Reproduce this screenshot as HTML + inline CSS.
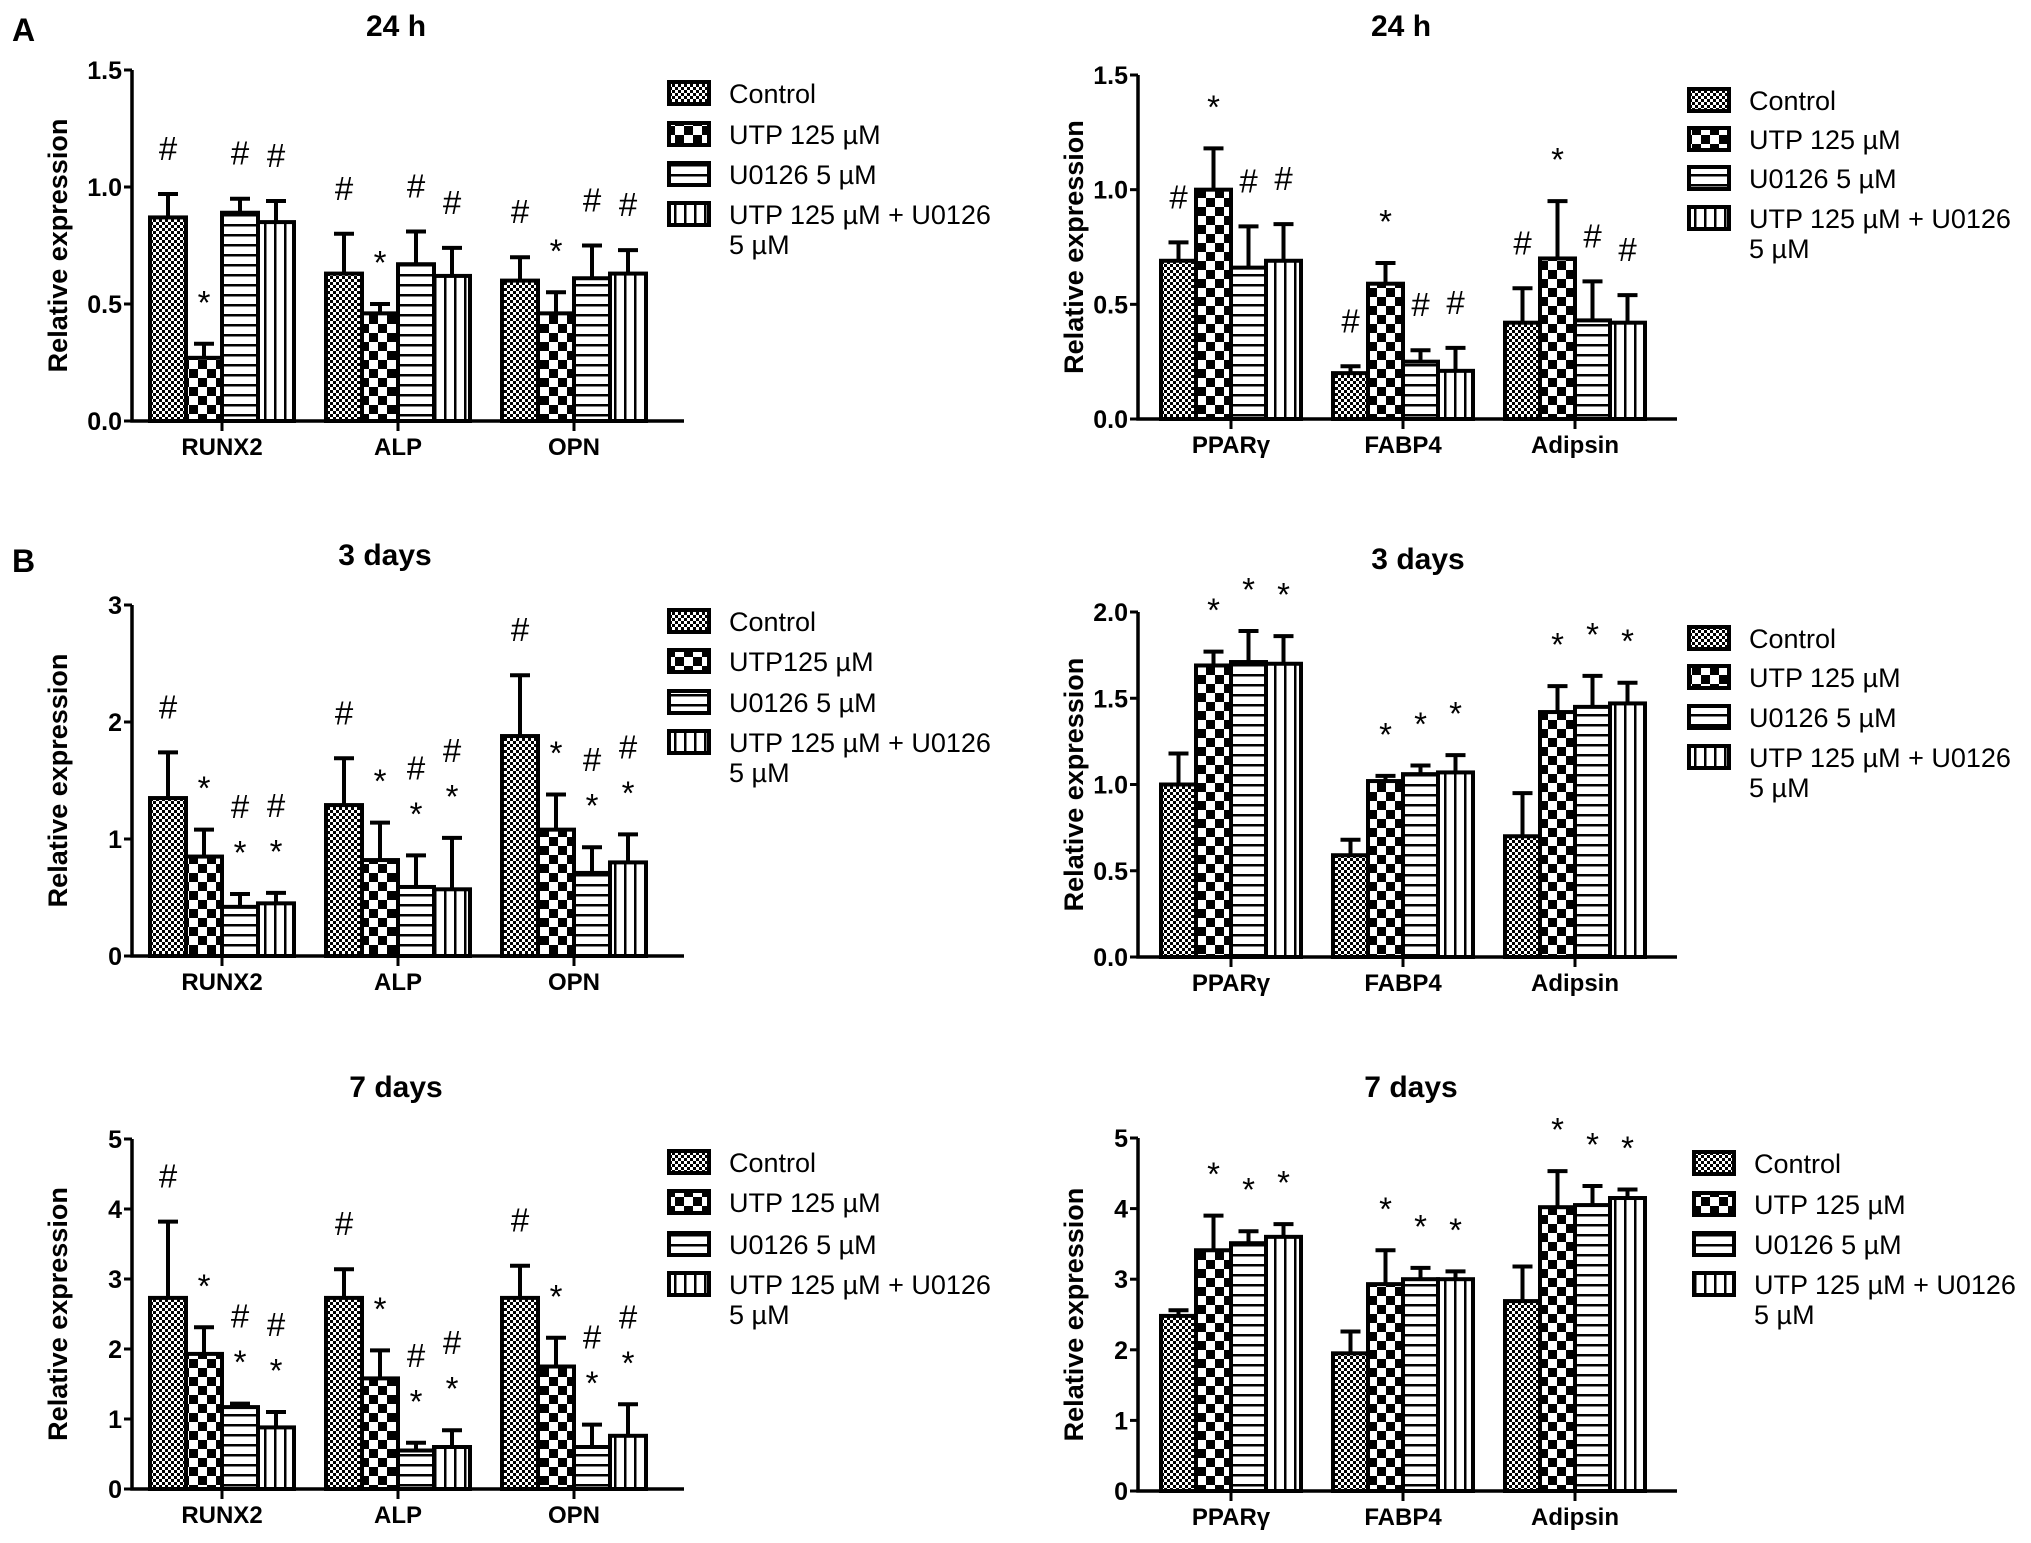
<!DOCTYPE html>
<html><head><meta charset="utf-8"><style>
html,body{margin:0;padding:0;background:#fff;}
svg{display:block;font-family:"Liberation Sans",Arial,sans-serif;}
.tick{font-weight:bold;font-size:25px;}
.cat{font-weight:bold;font-size:24px;}
.ttl{font-weight:bold;font-size:30px;}
.yt{font-weight:bold;font-size:27px;}
.leg{font-size:27px;}
.mk{font-size:33px;}
</style></head><body>
<svg id="fig" width="2031" height="1543" viewBox="0 0 2031 1543" xmlns="http://www.w3.org/2000/svg">
<defs>
<pattern id="pCtrl" width="6" height="6" patternUnits="userSpaceOnUse"><rect width="6" height="6" fill="#fff"/><rect width="3" height="3" fill="#000"/><rect x="3" y="3" width="3" height="3" fill="#000"/></pattern>
<pattern id="pUTP" width="18" height="18" patternUnits="userSpaceOnUse"><rect width="18" height="18" fill="#fff"/><rect width="9" height="9" fill="#000"/><rect x="9" y="9" width="9" height="9" fill="#000"/></pattern>
<pattern id="pU0" width="10" height="10" patternUnits="userSpaceOnUse"><rect width="10" height="10" fill="#fff"/><rect y="4" width="10" height="2.5" fill="#000"/></pattern>
<pattern id="pCmb" width="10" height="10" patternUnits="userSpaceOnUse"><rect width="10" height="10" fill="#fff"/><rect x="4" width="2.5" height="10" fill="#000"/></pattern>
</defs>
<text x="12" y="41" font-weight="bold" font-size="32">A</text>
<text x="12" y="572" font-weight="bold" font-size="32">B</text>
</svg>
<script>
// ---- data ----
const osteoCats = ["RUNX2","ALP","OPN"];
const adipoCats = ["PPARγ","FABP4","Adipsin"];
const seriesNames = ["Control","UTP 125 µM","U0126 5 µM","UTP 125 µM + U0126"];
const seriesNames3d = ["Control","UTP125 µM","U0126 5 µM","UTP 125 µM + U0126"];

const a24Means = [[0.87,0.27,0.89,0.85],[0.63,0.46,0.67,0.62],[0.60,0.46,0.61,0.63]];
const a24Tops  = [[0.97,0.33,0.95,0.94],[0.80,0.50,0.81,0.74],[0.70,0.55,0.75,0.73]];
const a24Marks = [["#","*","#","#"],["#","*","#","#"],["#","*","#","#"]];
const a24Ticks = ["0.0","0.5","1.0","1.5"];

const b24Means = [[0.69,1.00,0.66,0.69],[0.20,0.59,0.25,0.21],[0.42,0.70,0.43,0.42]];
const b24Tops  = [[0.77,1.18,0.84,0.85],[0.23,0.68,0.30,0.31],[0.57,0.95,0.60,0.54]];
const b24Marks = [["#","*","#","#"],["#","*","#","#"],["#","*","#","#"]];
const b24Ticks = ["0.0","0.5","1.0","1.5"];

const a3Means = [[1.35,0.85,0.42,0.45],[1.29,0.82,0.59,0.57],[1.88,1.08,0.71,0.80]];
const a3Tops  = [[1.74,1.08,0.53,0.54],[1.69,1.14,0.86,1.01],[2.40,1.38,0.93,1.04]];
const a3Marks = [["#","*","#*","#*"],["#","*","#*","#*"],["#","*","#*","#*"]];
const a3Ticks = ["0","1","2","3"];

const b3Means = [[1.00,1.69,1.71,1.70],[0.59,1.02,1.06,1.07],[0.70,1.42,1.45,1.47]];
const b3Tops  = [[1.18,1.77,1.89,1.86],[0.68,1.05,1.11,1.17],[0.95,1.57,1.63,1.59]];
const b3Marks = [["","*","*","*"],["","*","*","*"],["","*","*","*"]];
const b3Ticks = ["0.0","0.5","1.0","1.5","2.0"];

const a7Means = [[2.73,1.93,1.17,0.88],[2.73,1.58,0.55,0.60],[2.73,1.75,0.60,0.76]];
const a7Tops  = [[3.82,2.31,1.22,1.10],[3.14,1.98,0.66,0.84],[3.19,2.16,0.92,1.21]];
const a7Marks = [["#","*","#*","#*"],["#","*","#*","#*"],["#","*","#*","#*"]];
const a7Ticks = ["0","1","2","3","4","5"];

const b7Means = [[2.48,3.41,3.51,3.60],[1.95,2.93,3.00,3.00],[2.69,4.02,4.05,4.15]];
const b7Tops  = [[2.56,3.90,3.68,3.78],[2.26,3.41,3.16,3.11],[3.18,4.53,4.32,4.27]];
const b7Marks = [["","*","*","*"],["","*","*","*"],["","*","*","*"]];
const b7Ticks = ["0","1","2","3","4","5"];

const NS = "http://www.w3.org/2000/svg";
const svg = document.getElementById("fig");
const fills = ["url(#pCtrl)","url(#pUTP)","url(#pU0)","url(#pCmb)"];
function mk(tag, attrs, parent){
  const e = document.createElementNS(NS, tag);
  for (const k in attrs) e.setAttribute(k, attrs[k]);
  (parent||svg).appendChild(e);
  return e;
}
function panel(cfg){
  const g = mk("g", {});
  
  
  const ymax = parseFloat(cfg.ticks[cfg.ticks.length-1]);
  const Y = v => cfg.y0 - (v / ymax) * (cfg.y0 - cfg.yTop);
  const X = (gi, si) => cfg.gx0 + gi * cfg.gsp + (si - 2) * cfg.bw;
  const t = mk("text", {x: cfg.titleX, y: cfg.titleY, "text-anchor":"middle", class:"ttl"}, g);
  t.textContent = cfg.title;
  
  
  const ymid = (cfg.y0 + cfg.yTop)/2;
  const yt = mk("text", {x: cfg.ytX, y: ymid, "text-anchor":"middle", class:"yt", transform:`rotate(-90 ${cfg.ytX} ${ymid})`, dy:"9"}, g);
  yt.textContent = "Relative expression";
  
  
  cfg.means.forEach((grp, gi) => {
    grp.forEach((v, si) => {
      const x = X(gi, si), top = cfg.tops[gi][si];
      const eb = mk("path", {d:`M${x+cfg.bw/2} ${Y(v)}V${Y(top)}M${x+cfg.bw/2-10} ${Y(top)}H${x+cfg.bw/2+10}`, stroke:"#000", "stroke-width":4, fill:"none"}, g);
      
      
      const r = mk("rect", {x:x, y:Y(v), width:cfg.bw, height:cfg.y0-Y(v), fill:fills[si], stroke:"#000", "stroke-width":4}, g);
      
      
      const m = cfg.marks[gi][si];
      const cx = x + cfg.bw/2;
      let off = 45;
      for (let k = m.length - 1; k >= 0; k--) {
        const ch = m[k];
        const tx = mk("text", {x:cx, y:Y(top) - off + (ch==="*"?15:11), "text-anchor":"middle", class:"mk"}, g);
        tx.textContent = ch;
        
        
        off += 42;
      }
    });
  });
  const ax = mk("path", {d:`M${cfg.ax} ${cfg.yTop}V${cfg.y0}H${cfg.axEnd}`, stroke:"#000", "stroke-width":3.5, fill:"none"}, g);
  
  
  cfg.ticks.forEach(tk => {
    const yy = Y(parseFloat(tk));
    mk("path", {d:`M${cfg.ax-8} ${yy}H${cfg.ax}`, stroke:"#000","stroke-width":3}, g);
    const tl = mk("text", {x:cfg.ax-10, y:yy+9, "text-anchor":"end", class:"tick"}, g);
    tl.textContent = tk;
    
    
  });
  cfg.cats.forEach((c, gi) => {
    const cx = cfg.gx0 + gi*cfg.gsp;
    mk("path", {d:`M${cx} ${cfg.y0}V${cfg.y0+10}`, stroke:"#000","stroke-width":3}, g);
    const cl = mk("text", {x:cx, y:cfg.y0+34, "text-anchor":"middle", class:"cat"}, g);
    cl.textContent = c;
    
    
  });
  cfg.legRows.forEach((ry, si) => {
    const lb = mk("rect", {x:cfg.legX, y:ry-11, width:40, height:22, fill:fills[si], stroke:"#000", "stroke-width":4}, g);
    
    
    const lt = mk("text", {x:cfg.legX+60, y:ry+10, class:"leg"}, g);
    lt.textContent = cfg.names[si];
    
    
  });
  const l5 = mk("text", {x:cfg.legX+60, y:cfg.legRows[3]+40, class:"leg"}, g);
  l5.textContent = "5 µM";
  
  
}
const L = {ax:132, axEnd:684, gx0:222, gsp:176, bw:36, ytX:58, legX:669};
const R = {ax:1138, axEnd:1677, gx0:1231, gsp:172, bw:35, ytX:1074, legX:1689};
panel(Object.assign({}, L, {name:"chart-24h-osteo", title:"24 h", titleX:396, titleY:36, y0:421, yTop:70, cats:osteoCats, means:a24Means, tops:a24Tops, marks:a24Marks, ticks:a24Ticks, names:seriesNames, legRows:[93,134,174,214]}));
panel(Object.assign({}, R, {name:"chart-24h-adipo", title:"24 h", titleX:1401, titleY:36, y0:419, yTop:75, cats:adipoCats, means:b24Means, tops:b24Tops, marks:b24Marks, ticks:b24Ticks, names:seriesNames, legRows:[100,139,178,218]}));
panel(Object.assign({}, L, {name:"chart-3d-osteo", title:"3 days", titleX:385, titleY:565, y0:956, yTop:605, cats:osteoCats, means:a3Means, tops:a3Tops, marks:a3Marks, ticks:a3Ticks, names:seriesNames3d, legRows:[621,661,702,742]}));
panel(Object.assign({}, R, {name:"chart-3d-adipo", title:"3 days", titleX:1418, titleY:569, y0:957, yTop:612, cats:adipoCats, means:b3Means, tops:b3Tops, marks:b3Marks, ticks:b3Ticks, names:seriesNames, legRows:[638,677,717,757]}));
panel(Object.assign({}, L, {name:"chart-7d-osteo", title:"7 days", titleX:396, titleY:1097, y0:1489, yTop:1139, cats:osteoCats, means:a7Means, tops:a7Tops, marks:a7Marks, ticks:a7Ticks, names:seriesNames, legRows:[1162,1202,1244,1284]}));
panel(Object.assign({}, R, {name:"chart-7d-adipo", title:"7 days", titleX:1411, titleY:1097, y0:1491, yTop:1138, cats:adipoCats, means:b7Means, tops:b7Tops, marks:b7Marks, ticks:b7Ticks, names:seriesNames, legX:1694, legRows:[1163,1204,1244,1284]}));
</script>
</body></html>
